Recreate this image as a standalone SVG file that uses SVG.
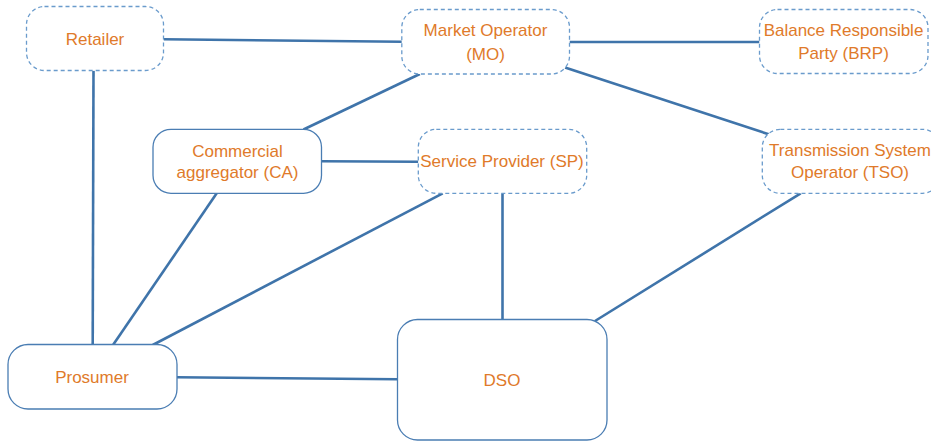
<svg xmlns="http://www.w3.org/2000/svg" width="931" height="441" viewBox="0 0 931 441">
<style>
.bg{fill:#ffffff}
.dash{fill:#ffffff;stroke:#6a9bcc;stroke-width:1.3;stroke-dasharray:4 3}
.solid{fill:#ffffff;stroke:#4a7db3;stroke-width:1.3}
.lbl{font-family:"Liberation Sans",Arial,sans-serif;font-size:17px;fill:#e07a2a;text-anchor:middle}
.conn line{stroke:#3f74aa;stroke-width:2.6;stroke-linecap:butt}
</style>
<rect class="bg" x="0" y="0" width="931" height="441"/>
<g id="connectors" class="conn">
<line x1="163.5" y1="39.3" x2="401.8" y2="41.7"/>
<line x1="569.5" y1="42" x2="759.5" y2="42"/>
<line x1="565" y1="67.5" x2="769.5" y2="134.5"/>
<line x1="419.8" y1="74" x2="303.5" y2="129.5"/>
<line x1="321.5" y1="161.3" x2="418.3" y2="161.8"/>
<line x1="93.5" y1="70.7" x2="92.7" y2="345"/>
<line x1="216.7" y1="193.3" x2="113" y2="345"/>
<line x1="442.7" y1="193.3" x2="152.7" y2="345"/>
<line x1="502.5" y1="193.3" x2="502.5" y2="320"/>
<line x1="800.7" y1="193.3" x2="595" y2="321"/>
<line x1="176.7" y1="377.3" x2="397.5" y2="379.3"/>
</g>
<g id="retailer">
<rect class="dash" x="26.5" y="6.5" width="137" height="64" rx="18"/>
<text class="lbl" x="95" y="45">Retailer</text>
</g>
<g id="mo">
<rect class="dash" x="401.8" y="9.5" width="167.7" height="64.5" rx="18"/>
<text class="lbl" x="485.5" y="36">Market Operator</text>
<text class="lbl" x="485.5" y="59.5">(MO)</text>
</g>
<g id="brp">
<rect class="dash" x="759.5" y="9.5" width="168.5" height="64" rx="18"/>
<text class="lbl" x="843.5" y="35.5">Balance Responsible</text>
<text class="lbl" x="843.5" y="58.5">Party (BRP)</text>
</g>
<g id="ca">
<rect class="solid" x="153" y="129.3" width="168.5" height="64" rx="18"/>
<text class="lbl" x="237.5" y="156.5">Commercial</text>
<text class="lbl" x="237.5" y="178">aggregator (CA)</text>
</g>
<g id="sp">
<rect class="dash" x="418.3" y="129.3" width="168.4" height="64" rx="18"/>
<text class="lbl" x="502" y="167">Service Provider (SP)</text>
</g>
<g id="tso">
<rect class="dash" x="762.3" y="129.3" width="178" height="64" rx="18"/>
<text class="lbl" x="850" y="156">Transmission System</text>
<text class="lbl" x="850" y="177.5">Operator (TSO)</text>
</g>
<g id="prosumer">
<rect class="solid" x="8" y="344.5" width="169" height="64.5" rx="20"/>
<text class="lbl" x="92" y="383">Prosumer</text>
</g>
<g id="dso">
<rect class="solid" x="397.5" y="319.5" width="209.5" height="120.5" rx="20"/>
<text class="lbl" x="502" y="386">DSO</text>
</g>
</svg>
